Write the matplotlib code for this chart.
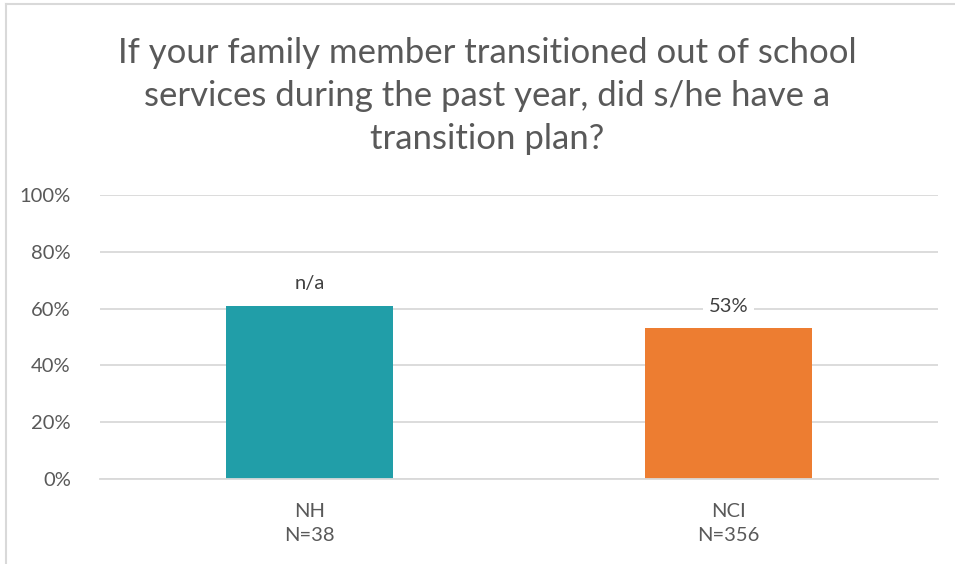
import matplotlib
matplotlib.use("Agg")
import matplotlib.pyplot as plt
from matplotlib.lines import Line2D

categories = ["NH\nN=38", "NCI\nN=356"]
values = [61, 53]
labels = ["n/a", "53%"]
colors = ["#219EA8", "#ED7D31"]
yticks = [0, 20, 40, 60, 80, 100]
ytick_labels = ["0%", "20%", "40%", "60%", "80%", "100%"]
title = "If your family member transitioned out of school\nservices during the past year, did s/he have a\ntransition plan?"

plt.rcParams['font.family'] = ['Lato', 'DejaVu Sans']
fig = plt.figure(figsize=(9.55, 5.64), dpi=100)
ax = fig.add_axes([100/955, 1 - 479/564, 838/955, 284/564])

x = list(range(len(categories)))
ax.bar(x, values, width=0.4, color=colors, zorder=2)
ax.set_xlim(-0.5, 1.5)
ax.set_ylim(0, 100)
ax.set_yticks(yticks)
ax.set_yticklabels(ytick_labels)
ax.set_xticks(x)
ax.set_xticklabels(categories, linespacing=1.55)
ax.grid(axis='y', color='#d9d9d9', linewidth=1.3, zorder=0)
for s in ['top', 'right', 'left']:
    ax.spines[s].set_visible(False)
ax.spines['bottom'].set_color('#d9d9d9')
ax.spines['bottom'].set_linewidth(1.3)
ax.tick_params(axis='both', length=0, colors='#595959', labelsize=14.5)
ax.tick_params(axis='y', pad=21)
ax.tick_params(axis='x', pad=17)

for xi, v, lab in zip(x, values, labels):
    ax.annotate(lab, (xi, v), xytext=(0, 10), textcoords='offset points',
                ha='center', va='bottom', fontsize=14.5, color='#404040',
                bbox=dict(facecolor='white', edgecolor='none', pad=4), zorder=3)

fig.text(487/955, 1 - 96/564, title, ha='center', va='center', fontsize=25,
         color='#595959', linespacing=1.42)

# chart border
fig.add_artist(Line2D([6/955, 1], [1 - 4/564, 1 - 4/564], color='#d9d9d9', lw=1.5, transform=fig.transFigure))
fig.add_artist(Line2D([6/955, 6/955], [0, 1 - 4/564], color='#d9d9d9', lw=1.5, transform=fig.transFigure))

fig.savefig("out.png", dpi=100)
